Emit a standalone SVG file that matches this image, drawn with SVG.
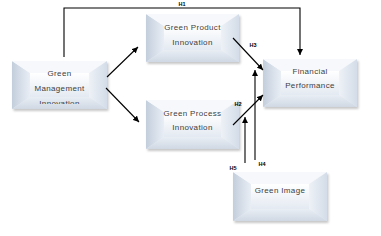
<svg xmlns="http://www.w3.org/2000/svg" width="381" height="236" viewBox="0 0 381 236">
<style>
.t{font-family:"Liberation Sans",Arial,sans-serif;font-size:8px;fill:#404040;text-anchor:middle;letter-spacing:0.35px}
.h{font-family:"Liberation Sans",Arial,sans-serif;font-size:5.5px;font-weight:bold;fill:#000;text-anchor:middle}
.ln{stroke:#000;stroke-width:1.1;fill:none}
.face{fill:url(#gFace)}
.bl{fill:url(#gLeft)}
.bt{fill:#f6f8fb}
.br{fill:url(#gRight)}
.bb{fill:url(#gBot)}
.sh{fill:#9a9a9a;opacity:0.55;filter:url(#blur)}
</style>
<defs>
<filter id="blur" x="-10%" y="-10%" width="120%" height="130%"><feGaussianBlur stdDeviation="1.2"/></filter>
<linearGradient id="gFace" x1="0" y1="0" x2="0" y2="1"><stop offset="0" stop-color="#ffffff"/><stop offset="1" stop-color="#e4eaf2"/></linearGradient>
<linearGradient id="gLeft" x1="0" y1="0" x2="1" y2="0"><stop offset="0" stop-color="#c3cedc"/><stop offset="1" stop-color="#e9eef5"/></linearGradient>
<linearGradient id="gRight" x1="0" y1="0" x2="1" y2="0"><stop offset="0" stop-color="#eef2f7"/><stop offset="1" stop-color="#d3dce8"/></linearGradient>
<linearGradient id="gBot" x1="0" y1="0" x2="0" y2="1"><stop offset="0" stop-color="#e9eef4"/><stop offset="1" stop-color="#cfd8e4"/></linearGradient>
<marker id="ah" viewBox="0 0 10 10" refX="10" refY="5" markerWidth="6" markerHeight="6" markerUnits="userSpaceOnUse" orient="auto"><path d="M0,0 L10,5 L0,10 z" fill="#000"/></marker>
<clipPath id="cm"><rect x="12" y="61" width="95" height="43"/></clipPath>
</defs>

<g id="gmi">
<rect class="sh" x="13.5" y="63" width="95" height="48"/>
<rect class="face" x="12" y="61" width="95" height="48"/>
<polygon class="bl" points="12,61 30,73 30,97 12,109"/>
<polygon class="bt" points="12,61 107,61 89,73 30,73"/>
<polygon class="br" points="107,61 107,109 89,97 89,73"/>
<polygon class="bb" points="12,109 30,97 89,97 107,109"/>
<rect class="face" x="30" y="73" width="59" height="24"/>
<text class="t" x="59.5" y="76">Green</text>
<text class="t" x="59.5" y="91">Management</text>
<text class="t" x="59.5" y="105.5" clip-path="url(#cm)">Innovation</text>
</g>

<g id="gpi">
<rect class="sh" x="147.5" y="16" width="93" height="48"/>
<rect class="face" x="146" y="14" width="93" height="48"/>
<polygon class="bl" points="146,14 164,26 164,50 146,62"/>
<polygon class="bt" points="146,14 239,14 221,26 164,26"/>
<polygon class="br" points="239,14 239,62 221,50 221,26"/>
<polygon class="bb" points="146,62 164,50 221,50 239,62"/>
<rect class="face" x="164" y="26" width="57" height="24"/>
<text class="t" x="192.5" y="30">Green Product</text>
<text class="t" x="192.5" y="45">Innovation</text>
</g>

<g id="gpri">
<rect class="sh" x="147.5" y="102" width="93" height="49"/>
<rect class="face" x="146" y="100" width="93" height="49"/>
<polygon class="bl" points="146,100 164,112 164,137 146,149"/>
<polygon class="bt" points="146,100 239,100 221,112 164,112"/>
<polygon class="br" points="239,100 239,149 221,137 221,112"/>
<polygon class="bb" points="146,149 164,137 221,137 239,149"/>
<rect class="face" x="164" y="112" width="57" height="25"/>
<text class="t" x="192.5" y="116">Green Process</text>
<text class="t" x="192.5" y="130">Innovation</text>
</g>

<g id="fp">
<rect class="sh" x="264.5" y="61" width="94" height="48"/>
<rect class="face" x="263" y="59" width="94" height="48"/>
<polygon class="bl" points="263,59 281,71 281,95 263,107"/>
<polygon class="bt" points="263,59 357,59 339,71 281,71"/>
<polygon class="br" points="357,59 357,107 339,95 339,71"/>
<polygon class="bb" points="263,107 281,95 339,95 357,107"/>
<rect class="face" x="281" y="71" width="58" height="24"/>
<text class="t" x="310" y="74">Financial</text>
<text class="t" x="310" y="88">Performance</text>
</g>

<g id="gim">
<rect class="sh" x="234.5" y="174" width="94" height="49"/>
<rect class="face" x="233" y="172" width="94" height="49"/>
<polygon class="bl" points="233,172 251,184 251,209 233,221"/>
<polygon class="bt" points="233,172 327,172 309,184 251,184"/>
<polygon class="br" points="327,172 327,221 309,209 309,184"/>
<polygon class="bb" points="233,221 251,209 309,209 327,221"/>
<rect class="face" x="251" y="184" width="58" height="25"/>
<text class="t" x="280" y="193">Green Image</text>
</g>

<g id="connectors">
<polyline class="ln" points="64,57 64,8 300,8 300,55" marker-end="url(#ah)"/>
<line class="ln" x1="107" y1="77" x2="138" y2="47" marker-end="url(#ah)"/>
<line class="ln" x1="106" y1="88" x2="139" y2="122" marker-end="url(#ah)"/>
<line class="ln" x1="233" y1="38" x2="263" y2="70" marker-end="url(#ah)"/>
<line class="ln" x1="233" y1="125" x2="263" y2="95" marker-end="url(#ah)"/>
<line class="ln" x1="245" y1="163" x2="245" y2="117" marker-end="url(#ah)"/>
<line class="ln" x1="255" y1="160" x2="255" y2="70" marker-end="url(#ah)"/>
<text class="h" x="182" y="5.5">H1</text>
<text class="h" x="238" y="106">H2</text>
<text class="h" x="253" y="47">H3</text>
<text class="h" x="262" y="166">H4</text>
<text class="h" x="233" y="170">H5</text>
</g>
</svg>
